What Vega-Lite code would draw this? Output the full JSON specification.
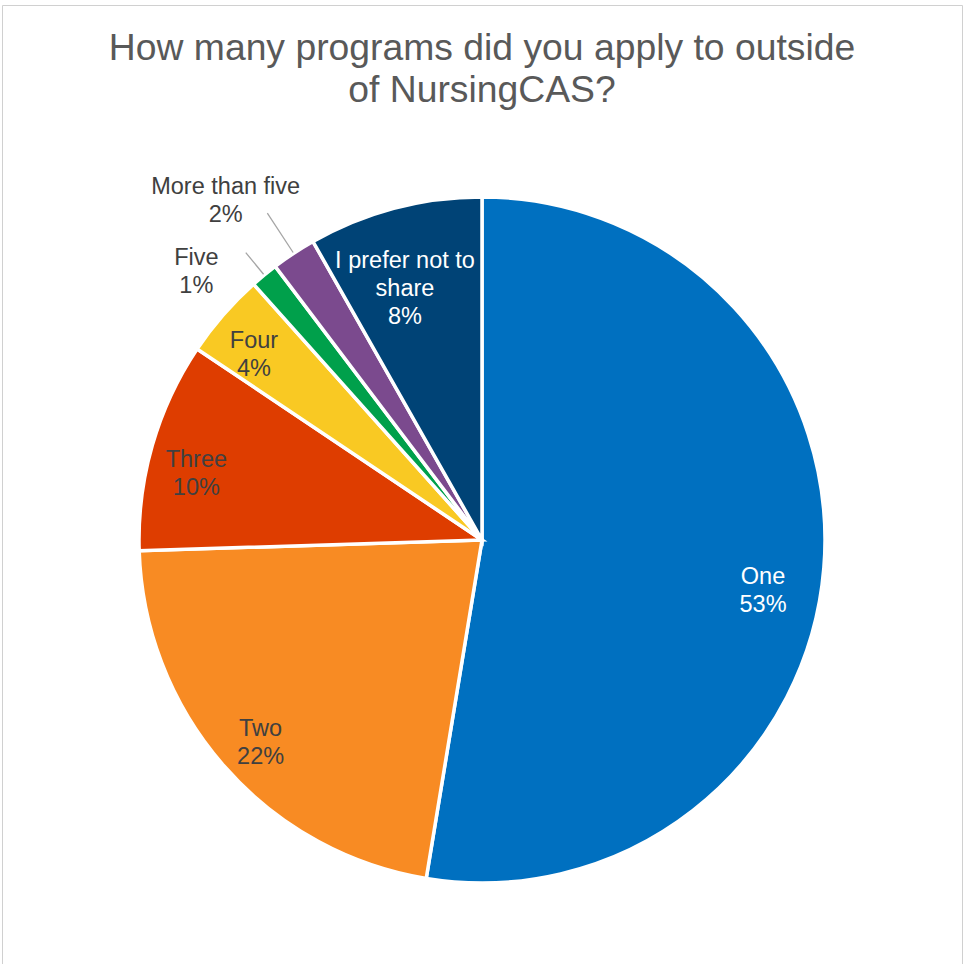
{
  "$schema": "https://vega.github.io/schema/vega-lite/v6.json",
  "width": 960,
  "height": 1070,
  "autosize": {"type": "none"},
  "padding": {"top": 5, "left": 2, "right": 1, "bottom": 0},
  "background": "white",
  "view": {"stroke": "#D0D0D0", "strokeWidth": 1, "fill": "white"},
  "config": {
    "view": {"stroke": "#D0D0D0", "strokeWidth": 1},
    "text": {"font": "Liberation Sans"}
  },
  "title": {
    "text": ["How many programs did you apply to outside", "of NursingCAS?"],
    "font": "Liberation Sans",
    "fontSize": 37.3,
    "fontWeight": "normal",
    "color": "#595959",
    "lineHeight": 42,
    "anchor": "middle",
    "offset": -105
  },
  "data": {
    "values": [
      {"rank": 1, "category": "One", "value": 52.6, "label": "One\n53%"},
      {"rank": 2, "category": "Two", "value": 21.9, "label": "Two\n22%"},
      {"rank": 3, "category": "Three", "value": 9.9, "label": "Three\n10%"},
      {"rank": 4, "category": "Four", "value": 4.0, "label": "Four\n4%"},
      {"rank": 5, "category": "Five", "value": 1.3, "label": "Five\n1%"},
      {"rank": 6, "category": "More than five", "value": 2.1, "label": "More than five\n2%"},
      {"rank": 7, "category": "I prefer not to share", "value": 8.2, "label": "I prefer not to\nshare\n8%"}
    ]
  },
  "encoding": {
    "theta": {"field": "value", "type": "quantitative", "stack": true},
    "order": {"field": "rank", "type": "quantitative"}
  },
  "layer": [
    {
      "mark": {"type": "arc", "outerRadius": 343, "stroke": "white", "strokeWidth": 3.5},
      "encoding": {
        "color": {
          "field": "category",
          "type": "nominal",
          "legend": null,
          "scale": {
            "domain": ["One", "Two", "Three", "Four", "Five", "More than five", "I prefer not to share"],
            "range": ["#0070C0", "#F88B23", "#DE3D00", "#F9C923", "#00A04B", "#7B4A8E", "#004376"]
          }
        }
      }
    },
    {
      "mark": {"type": "arc", "filled": false, "stroke": "#A6A6A6", "strokeWidth": 1.3, "padAngle": 0.2},
      "encoding": {
        "radius": {"value": 372},
        "radius2": {"value": 344},
        "strokeOpacity": {"condition": {"test": "datum.category === 'Five'", "value": 1}, "value": 0}
      }
    },
    {
      "mark": {"type": "arc", "filled": false, "stroke": "#A6A6A6", "strokeWidth": 1.3, "padAngle": 0.2},
      "encoding": {
        "radius": {"value": 391},
        "radius2": {"value": 344},
        "strokeOpacity": {"condition": {"test": "datum.category === 'More than five'", "value": 1}, "value": 0}
      }
    },
    {
      "mark": {"type": "text", "fontSize": 23.5, "lineHeight": 28, "lineBreak": "\n", "color": "white", "align": "center", "baseline": "middle", "dx": -4, "dy": 14},
      "encoding": {
        "radius": {"value": 286},
        "text": {"condition": {"test": "datum.category === 'One'", "field": "label"}, "value": ""}
      }
    },
    {
      "mark": {"type": "text", "fontSize": 23.5, "lineHeight": 28, "lineBreak": "\n", "color": "white", "align": "center", "baseline": "middle", "dx": -10, "dy": -25},
      "encoding": {
        "radius": {"value": 263},
        "text": {"condition": {"test": "datum.category === 'I prefer not to share'", "field": "label"}, "value": ""}
      }
    },
    {
      "mark": {"type": "text", "fontSize": 23.5, "lineHeight": 28, "lineBreak": "\n", "color": "#404040", "align": "center", "baseline": "middle", "dx": 2, "dy": -7},
      "encoding": {
        "radius": {"value": 297},
        "text": {"condition": {"test": "datum.category === 'Two'", "field": "label"}, "value": ""}
      }
    },
    {
      "mark": {"type": "text", "fontSize": 23.5, "lineHeight": 28, "lineBreak": "\n", "color": "#404040", "align": "center", "baseline": "middle", "dx": -4, "dy": -4},
      "encoding": {
        "radius": {"value": 297},
        "text": {"condition": {"test": "datum.category === 'Four'", "field": "label"}, "value": ""}
      }
    },
    {
      "mark": {"type": "text", "fontSize": 23.5, "lineHeight": 28, "lineBreak": "\n", "color": "#404040", "align": "center", "baseline": "middle", "dx": -4, "dy": 1},
      "encoding": {
        "radius": {"value": 293},
        "text": {"condition": {"test": "datum.category === 'Three'", "field": "label"}, "value": ""}
      }
    },
    {
      "mark": {"type": "text", "fontSize": 23.5, "lineHeight": 28, "lineBreak": "\n", "color": "#404040", "align": "center", "baseline": "middle", "dx": -38, "dy": 19},
      "encoding": {
        "radius": {"value": 390},
        "text": {"condition": {"test": "datum.category === 'Five'", "field": "label"}, "value": ""}
      }
    },
    {
      "mark": {"type": "text", "fontSize": 23.5, "lineHeight": 28, "lineBreak": "\n", "color": "#404040", "align": "center", "baseline": "middle", "dx": -23, "dy": 2},
      "encoding": {
        "radius": {"value": 425},
        "text": {"condition": {"test": "datum.category === 'More than five'", "field": "label"}, "value": ""}
      }
    }
  ]
}
